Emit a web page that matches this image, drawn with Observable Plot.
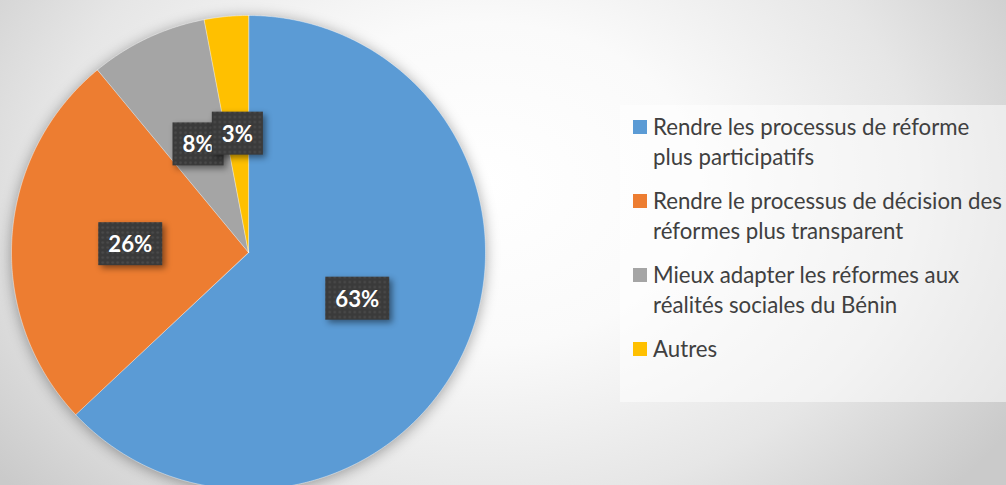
<!DOCTYPE html>
<html>
<head>
<meta charset="utf-8">
<script src="https://cdn.jsdelivr.net/npm/d3@7"></script>
<script src="https://cdn.jsdelivr.net/npm/@observablehq/plot@0.6"></script>
<style>
  html, body { margin: 0; padding: 0; }
  body {
    width: 1006px; height: 485px; overflow: hidden; position: relative;
    background: radial-gradient(ellipse 62% 95% at 48% 38%, #ffffff 0%, #fafafa 35%, #e6e6e6 70%, #cacaca 100%);
    font-family: Lato, "Open Sans", sans-serif;
  }
  #chart { position: absolute; left: 0; top: 0; }
  #legend {
    position: absolute; left: 620px; top: 105px; width: 386px; height: 297px;
    background: rgba(255,255,255,0.5); box-sizing: border-box; padding-top: 7px;
  }
  .item { position: relative; padding-left: 33px; margin-bottom: 14px; color: #404040; line-height: 30px; white-space: pre-line; }
  .sw { position: absolute; left: 13px; top: 8px; width: 14px; height: 14px; }
</style>
</head>
<body>
<div id="chart"></div>
<div id="legend"></div>
<script>
// ---- data ----
const categories = [
  "Rendre les processus de réforme\nplus participatifs",
  "Rendre le processus de décision des\nréformes plus transparent",
  "Mieux adapter les réformes aux\nréalités sociales du Bénin",
  "Autres"
];
const values = [63, 26, 8, 3];
const colors = ["#5b9bd5", "#ed7d31", "#a5a5a5", "#ffc000"];

// ---- layout ----
const W = 1006, H = 485;
const cx = 248, cy = 252, R = 237;
const labelRadius = 0.5; // fraction of radius

const total = d3.sum(values);
const pieRows = [];
const labelRows = [];
let acc = 0;
categories.forEach((cat, i) => {
  const a0 = acc / total * 2 * Math.PI;
  acc += values[i];
  const a1 = acc / total * 2 * Math.PI;
  pieRows.push({cat, x: 0, y: 0});
  const n = Math.max(2, Math.ceil((a1 - a0) / (Math.PI / 360)));
  for (let k = 0; k <= n; k++) {
    const a = a0 + (a1 - a0) * k / n;
    pieRows.push({cat, x: Math.sin(a), y: Math.cos(a)});
  }
  const am = (a0 + a1) / 2;
  labelRows.push({cat, x: labelRadius * Math.sin(am), y: labelRadius * Math.cos(am), text: Math.round(values[i] / total * 100) + "%"});
});

// font sizing to mimic Calibri metrics
const ctx = document.createElement("canvas").getContext("2d");
function fitSize(text, target, weight) {
  ctx.font = `${weight} 20px Lato`;
  return 20 * target / ctx.measureText(text).width;
}
const legendSize = fitSize("Rendre le processus de décision des", 349, "normal");
const labelSize = fitSize("63%", 44, "bold");

const plot = Plot.plot({
  width: W, height: H, margin: 0,
  x: {domain: [-1, 1], range: [cx - R, cx + R], axis: null},
  y: {domain: [-1, 1], range: [cy + R, cy - R], axis: null},
  color: {domain: categories, range: colors},
  style: {background: "transparent", overflow: "visible", fontFamily: "Lato, sans-serif"},
  marks: [
    Plot.line(pieRows, {x: "x", y: "y", z: "cat", fill: "cat", stroke: "white", strokeWidth: 0.6, strokeOpacity: 0.7, curve: "linear-closed"}),
    Plot.text(labelRows, {x: "x", y: "y", text: "text", fill: "white", fontWeight: "bold", fontSize: labelSize})
  ]
});
document.getElementById("chart").appendChild(plot);

// shadow on pie
const pieG = plot.querySelector('g[aria-label="line"]');
if (pieG) pieG.style.filter = "drop-shadow(0px 2px 7px rgba(0,0,0,0.35))";

// textured label boxes
const ns = "http://www.w3.org/2000/svg";
const defs = document.createElementNS(ns, "defs");
defs.innerHTML = `<pattern id="dots" width="5" height="5" patternUnits="userSpaceOnUse">
  <rect width="5" height="5" fill="#3a3a3a"/><circle cx="2.5" cy="2.5" r="1.3" fill="#4a4a4a"/></pattern>`;
plot.insertBefore(defs, plot.firstChild);
const textG = plot.querySelector('g[aria-label="text"]');
if (textG) {
  textG.querySelectorAll("text").forEach(t => {
    const b = t.getBBox();
    const r = document.createElementNS(ns, "rect");
    const px = 10, py = 8;
    r.setAttribute("x", b.x - px);
    r.setAttribute("y", b.y - py);
    r.setAttribute("width", b.width + 2 * px);
    r.setAttribute("height", b.height + 2 * py);
    r.setAttribute("fill", "url(#dots)");
    r.style.filter = "drop-shadow(3px 3px 3px rgba(0,0,0,0.45))";
    if (t.getAttribute("transform")) r.setAttribute("transform", t.getAttribute("transform"));
    t.parentNode.insertBefore(r, t);
  });
}

// legend
const legend = document.getElementById("legend");
categories.forEach((cat, i) => {
  const item = document.createElement("div");
  item.className = "item";
  item.style.fontSize = legendSize + "px";
  const sw = document.createElement("span");
  sw.className = "sw";
  sw.style.background = colors[i];
  item.appendChild(sw);
  item.appendChild(document.createTextNode(cat));
  legend.appendChild(item);
});
</script>
</body>
</html>
